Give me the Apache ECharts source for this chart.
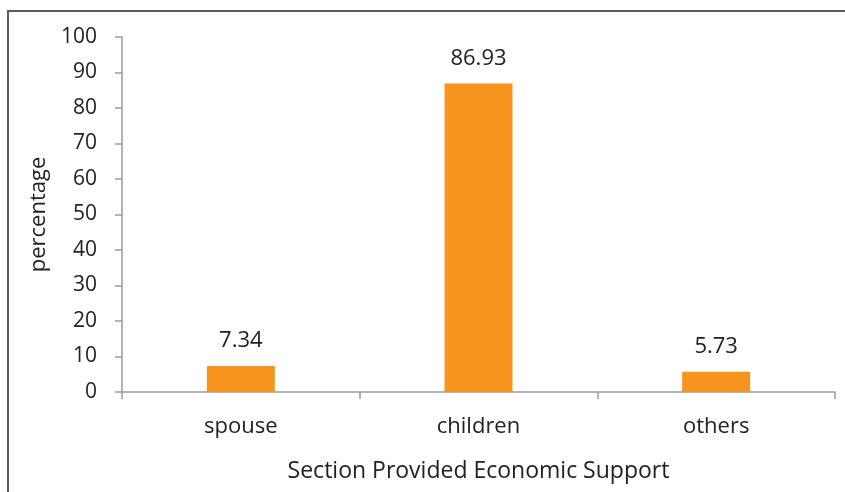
<!DOCTYPE html>
<html><head><meta charset="utf-8">
<script src="https://cdn.jsdelivr.net/npm/echarts@6/dist/echarts.min.js"></script>
<style>html,body{margin:0;padding:0;background:#fff}#c{width:845px;height:492px}</style>
</head><body><div id="c"></div>
<script>
const categories = ['spouse', 'children', 'others'];
const values = [7.34, 86.93, 5.73];
const yTicks = [0, 10, 20, 30, 40, 50, 60, 70, 80, 90, 100];
const xTitle = 'Section Provided Economic Support';
const yTitle = 'percentage';

const chart = echarts.init(document.getElementById('c'), null, {renderer: 'canvas'});
const font = 'Open Sans';
chart.setOption({
  animation: false,
  graphic: [{
    type: 'rect', silent: true, z: -1,
    shape: {x: 8, y: 11, width: 900, height: 600},
    style: {fill: 'none', stroke: '#5a5a5a', lineWidth: 2}
  }],
  grid: {left: 122, right: 10, top: 37, bottom: 100, containLabel: false},
  xAxis: {
    type: 'category', data: categories,
    name: xTitle, nameLocation: 'middle', nameGap: 68,
    nameTextStyle: {fontFamily: font, fontSize: 23, color: '#222'},
    axisLine: {lineStyle: {color: '#9a9a9a', width: 1.5}},
    axisTick: {show: true, length: 7, alignWithLabel: false, lineStyle: {color: '#9a9a9a', width: 1.5}},
    axisLabel: {fontFamily: font, fontSize: 22, color: '#222', margin: 24}
  },
  yAxis: {
    type: 'value', min: yTicks[0], max: yTicks[yTicks.length - 1], interval: 10,
    name: yTitle, nameLocation: 'middle', nameGap: 62,
    nameTextStyle: {fontFamily: font, fontSize: 22, color: '#222'},
    axisLine: {show: true, lineStyle: {color: '#9a9a9a', width: 1.5}},
    axisTick: {show: true, length: 7, lineStyle: {color: '#9a9a9a', width: 1.5}},
    splitLine: {show: false},
    axisLabel: {fontFamily: font, fontSize: 21, color: '#222', margin: 25}
  },
  series: [{
    type: 'bar', data: values, barWidth: '28.6%',
    itemStyle: {color: '#F7941D'},
    label: {show: true, position: 'top', distance: 14, fontFamily: font, fontSize: 22, color: '#222',
      formatter: p => p.value.toFixed(2)}
  }]
});
</script></body></html>
